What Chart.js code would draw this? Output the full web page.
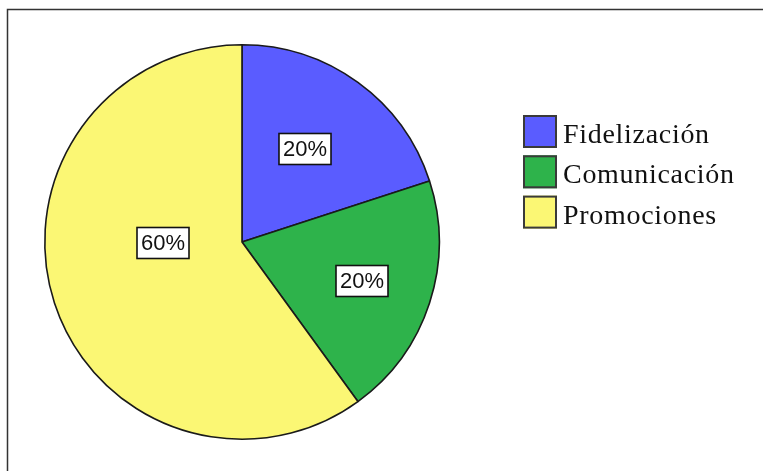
<!DOCTYPE html>
<html lang="es">
<head>
<meta charset="UTF-8">
<title>Distribución</title>
<script src="https://cdn.jsdelivr.net/npm/chart.js"></script>
<style>
  html, body { margin: 0; padding: 0; background: #fff; }
  #wrap { width: 763px; height: 471px; }
</style>
</head>
<body>
<div id="wrap"><canvas id="pie" width="763" height="471"></canvas></div>
<script>
// datos
const categorias = ['Fidelización', 'Comunicación', 'Promociones'];
const porcentajes = [20, 20, 60];
const colores = ['#5a5cff', '#2eb34b', '#fbf774'];

// marco gris arriba e izquierda
const marco = {
  id: 'marco',
  beforeDraw(chart) {
    const ctx = chart.ctx;
    ctx.save();
    ctx.strokeStyle = '#333';
    ctx.lineWidth = 1.5;
    ctx.beginPath();
    ctx.moveTo(763, 9.5);
    ctx.lineTo(7.5, 9.5);
    ctx.lineTo(7.5, 471);
    ctx.stroke();
    ctx.restore();
  }
};

// etiquetas con caja blanca
const etiquetas = {
  id: 'etiquetas',
  afterDatasetsDraw(chart) {
    const ctx = chart.ctx;
    const meta = chart.getDatasetMeta(0);
    const ajuste = [{ f: 0.57, da: -2 }, { f: 0.64, da: 0 }, { f: 0.40, da: 17 }];
    ctx.save();
    ctx.font = '22px "Liberation Sans", Arial, sans-serif';
    ctx.textAlign = 'center';
    ctx.textBaseline = 'middle';
    meta.data.forEach((arc, i) => {
      const p = arc.getProps(['x', 'y', 'startAngle', 'endAngle', 'outerRadius'], true);
      const a = (p.startAngle + p.endAngle) / 2 + ajuste[i].da * Math.PI / 180;
      const r = p.outerRadius * ajuste[i].f;
      const x = Math.round(p.x + Math.cos(a) * r);
      const y = Math.round(p.y + Math.sin(a) * r);
      const txt = porcentajes[i] + '%';
      const w = 52, h = 31;
      ctx.fillStyle = '#fff';
      ctx.fillRect(x - w / 2, y - h / 2, w, h);
      ctx.strokeStyle = '#111';
      ctx.lineWidth = 1.6;
      ctx.strokeRect(x - w / 2, y - h / 2, w, h);
      ctx.fillStyle = '#111';
      ctx.fillText(txt, x, y + 1);
    });
    ctx.restore();
  }
};

// leyenda a la derecha
const leyenda = {
  id: 'leyenda',
  afterDraw(chart) {
    const ctx = chart.ctx;
    ctx.save();
    ctx.font = '28px "Liberation Serif", "Times New Roman", serif';
    ctx.letterSpacing = '0.7px';
    ctx.textBaseline = 'alphabetic';
    categorias.forEach((c, i) => {
      const y = 115 + i * 40.3;
      ctx.fillStyle = colores[i];
      ctx.fillRect(523, y, 34, 33);
      ctx.strokeStyle = '#3a3a3a';
      ctx.lineWidth = 2;
      ctx.strokeRect(524, y + 1, 32, 31);
      ctx.fillStyle = '#111';
      ctx.fillText(c, 563, y + 28);
    });
    ctx.restore();
  }
};

new Chart(document.getElementById('pie'), {
  type: 'pie',
  data: {
    labels: categorias,
    datasets: [{
      data: porcentajes,
      backgroundColor: colores,
      borderColor: '#1a1a1a',
      borderWidth: 1.6
    }]
  },
  options: {
    responsive: false,
    animation: false,
    layout: { padding: { left: 44, top: 44, right: 323, bottom: 31 } },
    plugins: {
      legend: { display: false },
      tooltip: { enabled: false }
    }
  },
  plugins: [marco, etiquetas, leyenda]
});
</script>
</body>
</html>
